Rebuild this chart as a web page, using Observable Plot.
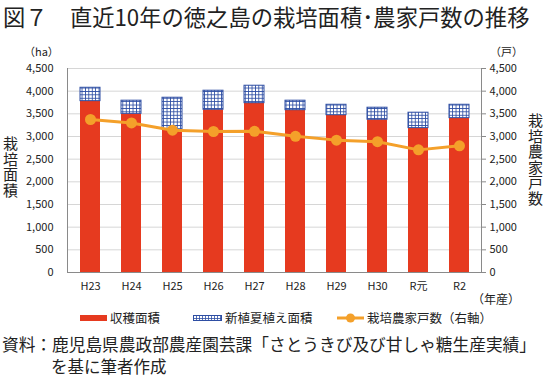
<!DOCTYPE html>
<html><head><meta charset="utf-8">
<script src="https://cdn.jsdelivr.net/npm/d3@7"></script>
<script src="https://cdn.jsdelivr.net/npm/@observablehq/plot@0.6"></script>
<style>
body{margin:0;background:#fff;}
#wrap{position:relative;width:546px;height:381px;font-family:"Noto Sans CJK JP","Noto Sans",sans-serif;color:#222;}
.abs{position:absolute;white-space:nowrap;}
#chart{position:absolute;left:0;top:40px;}
.vert{writing-mode:vertical-rl;font-size:15px;line-height:15px;letter-spacing:0.5px;}
</style></head>
<body>
<div id="wrap">
  <div class="abs" style="left:3px;top:0px;font-size:22.3px;line-height:normal;">図７　直近10年の徳之島の栽培面積･農家戸数の推移</div>
  <div id="chart"></div>
  <div class="abs" style="left:24px;top:43px;font-size:11px;">（ha）</div>
  <div class="abs" style="left:490px;top:43px;font-size:11px;">（戸）</div>
  <div class="abs vert" style="left:3px;top:136px;">栽培面積</div>
  <div class="abs vert" style="left:528px;top:113px;">栽培農家戸数</div>
  <div class="abs" style="left:472px;top:290px;font-size:12px;">（年産）</div>
  <div id="legend"></div>
  <div class="abs" style="left:2px;top:333px;font-size:16.7px;line-height:22px;">資料：鹿児島県農政部農産園芸課「さとうきび及び甘しゃ糖生産実績」<br><span style="padding-left:49px;font-size:16.5px;">を基に筆者作成</span></div>
</div>
<script>
const years = ["H23","H24","H25","H26","H27","H28","H29","H30","R元","R2"];
const harvestArea = [3780, 3500, 3150, 3590, 3735, 3580, 3470, 3370, 3185, 3405];
const newPlantArea = [295, 290, 705, 420, 385, 210, 230, 265, 340, 295];
const farmHouseholds = [3375, 3300, 3140, 3110, 3115, 3005, 2920, 2885, 2705, 2795];
const yTicks = [0,500,1000,1500,2000,2500,3000,3500,4000,4500];
const seriesNames = ["収穫面積","新植夏植え面積","栽培農家戸数（右軸）"];

const RED = "#e63a1f", BLUE = "#2e4ea3", ORANGE = "#f4a02a";

const data = years.map((y,i)=>({year:y, harvest:harvestArea[i], total:harvestArea[i]+newPlantArea[i], farms:farmHouseholds[i]}));

const svg = Plot.plot({
  width:546, height:270,
  marginLeft:67, marginRight:65, marginTop:28, marginBottom:38,
  style:{fontFamily:'"Noto Sans CJK JP","Noto Sans",sans-serif', fontSize:"11px", color:"#222", background:"transparent"},
  x:{domain:years, paddingInner:0.52, paddingOuter:0.26, label:null},
  y:{domain:[0,4500], label:null},
  marks:[
    Plot.gridY(yTicks, {stroke:"#d6d6d6", strokeOpacity:1}),
    Plot.barY(data, {x:"year", y:"harvest", fill:RED}),
    Plot.barY(data, {x:"year", y1:"harvest", y2:"total", fill:"url(#gridpat)", stroke:BLUE, strokeWidth:1}),
    Plot.ruleY([0], {stroke:"#8a8a8a"}),
    Plot.frame({anchor:"left", stroke:"#8a8a8a"}),
    Plot.frame({anchor:"right", stroke:"#8a8a8a"}),
    Plot.line(data, {x:"year", y:"farms", stroke:ORANGE, strokeWidth:3}),
    Plot.dot(data, {x:"year", y:"farms", r:5.5, fill:ORANGE}),
    Plot.axisY(yTicks, {anchor:"left", tickSize:0, tickPadding:14, tickFormat:d3.format(","), label:null}),
    Plot.axisY(yTicks, {anchor:"right", tickSize:4, tickPadding:4, stroke:"#8a8a8a", tickFormat:d3.format(","), label:null}),
    Plot.axisX({tickSize:0, tickPadding:10, label:null})
  ]
});
svg.insertAdjacentHTML("afterbegin", `<defs><pattern id="gridpat" width="3.4" height="3.4" patternUnits="userSpaceOnUse"><rect width="3.4" height="3.4" fill="#fff"/><path d="M0 0.4H3.4M0.4 0V3.4" stroke="${BLUE}" stroke-width="0.9"/></pattern></defs>`);
document.getElementById("chart").appendChild(svg);

const lg = document.getElementById("legend");
lg.innerHTML = `
<div class="abs" style="left:80px;top:310px;font-size:12.5px;line-height:16px;display:flex;align-items:center;">
  <svg width="27" height="6" style="margin-right:3px"><rect width="27" height="6" fill="${RED}"/></svg>${seriesNames[0]}
</div>
<div class="abs" style="left:193px;top:310px;font-size:12.5px;line-height:16px;display:flex;align-items:center;">
  <svg width="29" height="6" style="margin-right:3px"><defs><pattern id="lgpat" width="3" height="3" patternUnits="userSpaceOnUse"><rect width="3" height="3" fill="#fff"/><path d="M0 0.4H3M0.4 0V3" stroke="${BLUE}" stroke-width="0.9"/></pattern></defs><rect x="0.5" y="0.5" width="28" height="5" fill="url(#lgpat)" stroke="${BLUE}"/></svg>${seriesNames[1]}
</div>
<div class="abs" style="left:337px;top:310px;font-size:12.5px;line-height:16px;display:flex;align-items:center;">
  <svg width="27" height="12" style="margin-right:3px"><line x1="0" x2="27" y1="6" y2="6" stroke="${ORANGE}" stroke-width="3"/><circle cx="13.5" cy="6" r="4.5" fill="${ORANGE}"/></svg>${seriesNames[2]}
</div>`;
</script>
</body></html>
